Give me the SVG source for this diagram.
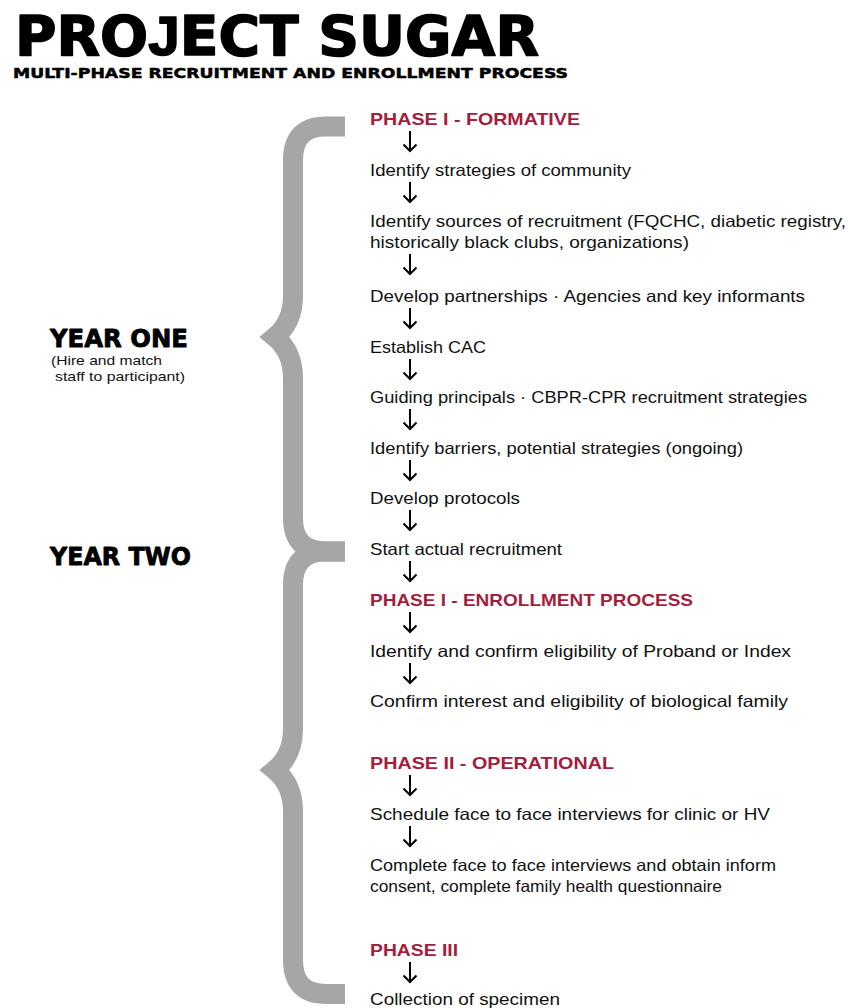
<svg xmlns="http://www.w3.org/2000/svg" width="859" height="1008" viewBox="0 0 859 1008">
<style>
.heavy{font-family:"DejaVu Sans","Liberation Sans",Arial,sans-serif;font-weight:bold;fill:#000;stroke:#000;stroke-linejoin:round}
.body{font-family:"Liberation Sans",Arial,sans-serif;font-size:16.5px;fill:#111}
.phase{font-family:"Liberation Sans",Arial,sans-serif;font-weight:bold;font-size:17px;fill:#a51d3c}
.small{font-family:"Liberation Sans",Arial,sans-serif;font-size:13.5px;fill:#111}
.brace{fill:none;stroke:#a6a6a6;stroke-width:20;stroke-linejoin:miter;stroke-miterlimit:10}
.arrow{stroke:#000;stroke-width:2;fill:none}
</style>
<defs>
<marker id="ah" viewBox="-8 -8 16 16" markerWidth="16" markerHeight="16" refX="0" refY="0" orient="auto" markerUnits="userSpaceOnUse">
<path d="M-6.5,-6.5 L0,0 L-6.5,6.5" fill="none" stroke="#000" stroke-width="2"/>
</marker>
</defs>
<rect width="859" height="1008" fill="#fff"/>

<g id="title">
<text class="heavy" x="15" y="55" font-size="55" stroke-width="1.6" textLength="524" lengthAdjust="spacingAndGlyphs">PRO<tspan font-family="Liberation Sans, Arial, sans-serif">J</tspan>ECT SUGAR</text>
<text class="heavy" x="13" y="77.5" font-size="14.5" stroke-width="0.5" textLength="555" lengthAdjust="spacingAndGlyphs">MULTI-PHASE RECRUITMENT AND ENROLLMENT PROCESS</text>
</g>

<g id="braces">
<path class="brace" d="M345,126.5 H326 Q293,126.5 293,160 V296 Q293,322 275,337 Q293,352 293,378 V518 Q293,551.5 326,551.5 H345"/>
<path class="brace" d="M345,551.5 H326 Q293,551.5 293,585 V729 Q293,755 275,770 Q293,785 293,811 V960 Q293,994 326,994 H345"/>
</g>

<g id="year-one">
<text class="heavy" x="50" y="347" font-size="25" stroke-width="0.8" textLength="138" lengthAdjust="spacingAndGlyphs">YEAR ONE</text>
<text class="small" x="51" y="365" textLength="111" lengthAdjust="spacingAndGlyphs">(Hire and match</text>
<text class="small" x="55" y="381" textLength="130" lengthAdjust="spacingAndGlyphs">staff to participant)</text>
</g>
<g id="year-two">
<text class="heavy" x="50" y="565" font-size="25" stroke-width="0.8" textLength="141" lengthAdjust="spacingAndGlyphs">YEAR TWO</text>
</g>

<g id="connectors">
<line class="arrow" x1="410" y1="131" x2="410" y2="151" marker-end="url(#ah)"/>
<line class="arrow" x1="410" y1="182" x2="410" y2="202" marker-end="url(#ah)"/>
<line class="arrow" x1="410" y1="254" x2="410" y2="274" marker-end="url(#ah)"/>
<line class="arrow" x1="410" y1="308" x2="410" y2="328" marker-end="url(#ah)"/>
<line class="arrow" x1="410" y1="359" x2="410" y2="379" marker-end="url(#ah)"/>
<line class="arrow" x1="410" y1="409" x2="410" y2="429" marker-end="url(#ah)"/>
<line class="arrow" x1="410" y1="460" x2="410" y2="480" marker-end="url(#ah)"/>
<line class="arrow" x1="410" y1="510" x2="410" y2="530" marker-end="url(#ah)"/>
<line class="arrow" x1="410" y1="561" x2="410" y2="581" marker-end="url(#ah)"/>
<line class="arrow" x1="410" y1="612" x2="410" y2="632" marker-end="url(#ah)"/>
<line class="arrow" x1="410" y1="663" x2="410" y2="683" marker-end="url(#ah)"/>
<line class="arrow" x1="410" y1="775" x2="410" y2="795" marker-end="url(#ah)"/>
<line class="arrow" x1="410" y1="826" x2="410" y2="846" marker-end="url(#ah)"/>
<line class="arrow" x1="410" y1="962" x2="410" y2="982" marker-end="url(#ah)"/>
</g>

<g id="phase1-formative"><text class="phase" x="370" y="125" textLength="210" lengthAdjust="spacingAndGlyphs">PHASE I - FORMATIVE</text></g>
<g id="n-strategies"><text class="body" x="370" y="176" textLength="261" lengthAdjust="spacingAndGlyphs">Identify strategies of community</text></g>
<g id="n-sources">
<text class="body" x="370" y="227" textLength="476" lengthAdjust="spacingAndGlyphs">Identify sources of recruitment (FQCHC, diabetic registry,</text>
<text class="body" x="370" y="248" textLength="319" lengthAdjust="spacingAndGlyphs">historically black clubs, organizations)</text>
</g>
<g id="n-partnerships"><text class="body" x="370" y="302" textLength="435" lengthAdjust="spacingAndGlyphs">Develop partnerships · Agencies and key informants</text></g>
<g id="n-cac"><text class="body" x="370" y="353" textLength="116" lengthAdjust="spacingAndGlyphs">Establish CAC</text></g>
<g id="n-principals"><text class="body" x="370" y="403" textLength="437" lengthAdjust="spacingAndGlyphs">Guiding principals · CBPR-CPR recruitment strategies</text></g>
<g id="n-barriers"><text class="body" x="370" y="454" textLength="373" lengthAdjust="spacingAndGlyphs">Identify barriers, potential strategies (ongoing)</text></g>
<g id="n-protocols"><text class="body" x="370" y="504" textLength="150" lengthAdjust="spacingAndGlyphs">Develop protocols</text></g>
<g id="n-start"><text class="body" x="370" y="555" textLength="192" lengthAdjust="spacingAndGlyphs">Start actual recruitment</text></g>
<g id="phase1-enrollment"><text class="phase" x="370" y="606" textLength="323" lengthAdjust="spacingAndGlyphs">PHASE I - ENROLLMENT PROCESS</text></g>
<g id="n-proband"><text class="body" x="370" y="657" textLength="421" lengthAdjust="spacingAndGlyphs">Identify and confirm eligibility of Proband or Index</text></g>
<g id="n-family"><text class="body" x="370" y="707" textLength="418" lengthAdjust="spacingAndGlyphs">Confirm interest and eligibility of biological family</text></g>
<g id="phase2"><text class="phase" x="370" y="769" textLength="244" lengthAdjust="spacingAndGlyphs">PHASE II - OPERATIONAL</text></g>
<g id="n-schedule"><text class="body" x="370" y="820" textLength="400" lengthAdjust="spacingAndGlyphs">Schedule face to face interviews for clinic or HV</text></g>
<g id="n-complete">
<text class="body" x="370" y="871" textLength="406" lengthAdjust="spacingAndGlyphs">Complete face to face interviews and obtain inform</text>
<text class="body" x="370" y="892" textLength="352" lengthAdjust="spacingAndGlyphs">consent, complete family health questionnaire</text>
</g>
<g id="phase3"><text class="phase" x="370" y="956" textLength="88" lengthAdjust="spacingAndGlyphs">PHASE III</text></g>
<g id="n-specimen"><text class="body" x="370" y="1005" textLength="190" lengthAdjust="spacingAndGlyphs">Collection of specimen</text></g>
</svg>
